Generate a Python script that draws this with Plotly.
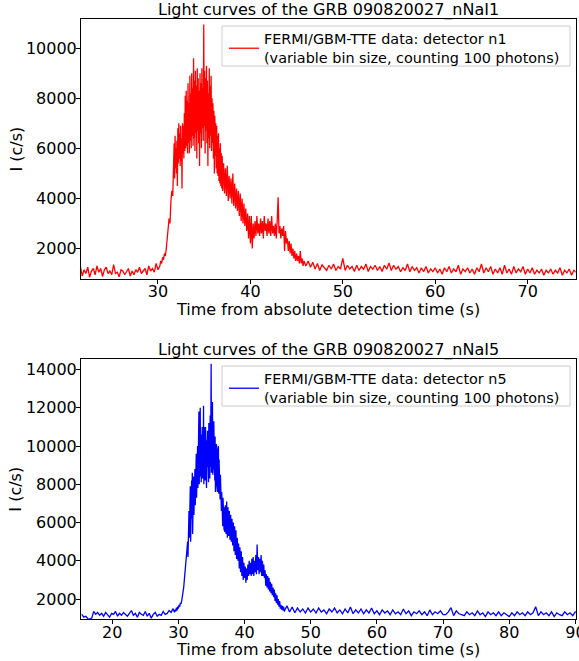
import plotly.graph_objects as go

# ---------------- data ----------------
t_n1 = [
    21.6, 21.8, 22.0, 22.2, 22.4, 22.6, 22.8, 23.0, 23.2, 23.4,
    23.6, 23.8, 24.0, 24.2, 24.4, 24.6, 24.8, 25.0, 25.2, 25.4,
    25.6, 25.8, 26.0, 26.2, 26.4, 26.6, 26.8, 27.0, 27.2, 27.4,
    27.6, 27.8, 28.0, 28.2, 28.4, 28.6, 28.8, 29.0, 29.2, 29.4,
    29.6, 29.8, 30.0,
    30.1, 30.2, 30.3, 30.4, 30.5, 30.6, 30.7, 30.8, 30.9, 31.0,
    31.1, 31.2, 31.3, 31.4, 31.5, 31.6, 31.7,
    31.75, 31.80, 31.85, 31.90, 31.95, 32.00, 32.05, 32.10, 32.15, 32.20,
    32.25, 32.30, 32.35, 32.40, 32.45, 32.50, 32.55, 32.60, 32.65, 32.70,
    32.75, 32.80, 32.85, 32.90, 32.95, 33.00, 33.05, 33.10, 33.15, 33.20,
    33.25, 33.30, 33.35, 33.40, 33.45, 33.50, 33.55, 33.60, 33.65, 33.70,
    33.75, 33.80, 33.85, 33.90, 33.95, 34.00, 34.05, 34.10, 34.15, 34.20,
    34.25, 34.30, 34.35, 34.40, 34.45, 34.50, 34.55, 34.60, 34.65, 34.70,
    34.75, 34.80, 34.85, 34.90, 34.95, 35.00, 35.05, 35.10, 35.15, 35.20,
    35.25, 35.30, 35.35, 35.40, 35.45, 35.50, 35.55, 35.60, 35.65, 35.70,
    35.75, 35.80, 35.85, 35.90, 35.95, 36.00, 36.05, 36.10, 36.15, 36.20,
    36.25, 36.30, 36.35, 36.40, 36.45, 36.50, 36.55, 36.60, 36.65, 36.70,
    36.75, 36.80, 36.85, 36.90, 36.95, 37.00,
    37.1, 37.2, 37.3, 37.4, 37.5, 37.6, 37.7, 37.8, 37.9, 38.0,
    38.1, 38.2, 38.3, 38.4, 38.5, 38.6, 38.7, 38.8, 38.9, 39.0,
    39.1, 39.2, 39.3, 39.4, 39.5, 39.6, 39.7, 39.8, 39.9, 40.0,
    40.1, 40.2, 40.3, 40.4, 40.5, 40.6, 40.7, 40.8, 40.9, 41.0,
    41.1, 41.2, 41.3, 41.4, 41.5, 41.6, 41.7, 41.8, 41.9, 42.0,
    42.1, 42.2, 42.3, 42.4, 42.5, 42.6, 42.7, 42.8, 42.9, 43.0,
    43.1, 43.2, 43.3, 43.4, 43.5, 43.6, 43.7, 43.8, 43.9, 44.0,
    44.1, 44.2, 44.3, 44.4, 44.5, 44.6, 44.7, 44.8, 44.9, 45.0,
    45.1, 45.2, 45.3, 45.4, 45.5, 45.6, 45.7, 45.8, 45.9, 46.0,
    46.25, 46.5, 46.75, 47.0, 47.25, 47.5, 47.75, 48.0, 48.25, 48.5, 48.75, 49.0,
    49.25, 49.5, 49.75, 50.0, 50.25, 50.5, 50.75, 51.0, 51.25, 51.5, 51.75, 52.0,
    52.25, 52.5, 52.75, 53.0, 53.25, 53.5, 53.75, 54.0, 54.25, 54.5, 54.75, 55.0,
    55.25, 55.5, 55.75, 56.0, 56.25, 56.5, 56.75, 57.0, 57.25, 57.5, 57.75, 58.0,
    58.25, 58.5, 58.75, 59.0, 59.25, 59.5, 59.75, 60.0, 60.25, 60.5, 60.75, 61.0,
    61.25, 61.5, 61.75, 62.0, 62.25, 62.5, 62.75, 63.0, 63.25, 63.5, 63.75, 64.0,
    64.25, 64.5, 64.75, 65.0, 65.25, 65.5, 65.75, 66.0, 66.25, 66.5, 66.75, 67.0,
    67.25, 67.5, 67.75, 68.0, 68.25, 68.5, 68.75, 69.0, 69.25, 69.5, 69.75, 70.0,
    70.25, 70.5, 70.75, 71.0, 71.25, 71.5, 71.75, 72.0, 72.25, 72.5, 72.75, 73.0,
    73.25, 73.5, 73.75, 74.0, 74.25, 74.5, 74.75, 75.0, 75.25,
]
rate_n1 = [
    1300, 900, 1150, 1000, 1250, 850, 1100, 1200, 950, 1300,
    1050, 1200, 880, 1150, 1250, 1000, 1100, 950, 1350, 1000,
    1050, 870, 1150, 1100, 950, 1050, 1200, 900, 1100, 950,
    1150, 1050, 1250, 1000, 1100, 1200, 950, 1300, 1100, 1200,
    1050, 1400, 1150,
    1250, 1300, 1500, 1400, 1650, 1550, 1800, 1700, 2000, 2300,
    2800, 3200, 3000, 3900, 4300, 4100, 5200,
    6200, 4800, 6500, 5200, 6000, 5000, 6300, 4500, 6800, 5400,
    7000, 5600, 6600, 5300, 6900, 5500, 6400, 4400, 7000, 5800,
    6900, 5600, 7400, 5900, 8100, 6000, 8300, 6100, 7900, 5800,
    8600, 6200, 7800, 5800, 8900, 6300, 8200, 6000, 9000, 6500,
    8400, 6100, 9600, 6400, 8700, 5900, 9100, 6600, 8500, 5600,
    9200, 6700, 8800, 6200, 8300, 5300, 9000, 6600, 8600, 6000,
    9200, 6800, 8400, 6300, 10950, 6900, 9100, 5800, 8800, 6700,
    9300, 6200, 8700, 5300, 8200, 6400, 9200, 6000, 8500, 6500,
    8900, 5900, 8000, 6200, 7800, 5600, 7500, 5000, 7300, 5700,
    7000, 5200, 6900, 5000, 6500, 4900, 6600, 4700, 6000, 4600,
    6200, 4500, 5800, 4400, 5700, 4300,
    5400, 4200, 5200, 4100, 5300, 3900, 4900, 4000, 4800, 3800,
    5000, 3700, 4600, 3600, 4400, 3500, 4300, 3300, 4200, 3100,
    4000, 3000, 3800, 2900, 3600, 2700, 3400, 2400, 3300, 2200,
    3300, 2000, 3000, 2400, 3100, 2500, 3300, 2600, 3000, 2500,
    3200, 2600, 3100, 2400, 3300, 2700, 3000, 2500, 3200, 2600,
    3100, 2500, 3300, 2600, 2900, 2500, 3000, 2400, 3100, 4050,
    2600, 2900, 2400, 2800, 2500, 2900, 1900, 2700, 2200, 2400,
    1900, 2300, 1800, 2200, 1700, 2000, 1600, 1900, 1500, 1800,
    1500, 1700, 1400, 1900, 1400, 1600, 1300, 1500, 1400, 1300,
    1500, 1250, 1450, 1180, 1400, 1120, 1350, 1250, 1120, 1330, 1180, 1380,
    1120, 1280, 1180, 1600, 1120, 1330, 1180, 1280, 1080, 1330, 1120, 1280,
    1170, 1380, 1080, 1280, 1170, 1330, 1120, 1280, 1080, 1330, 1170, 1420,
    1120, 1330, 1170, 1280, 1070, 1230, 1120, 1380, 1070, 1280, 1120, 1230,
    1020, 1230, 1070, 1280, 1020, 1180, 1070, 1230, 1020, 1180, 970, 1230,
    1070, 1280, 1020, 1180, 1070, 1330, 970, 1180, 1070, 1230, 1020, 1180,
    970, 1230, 1070, 1380, 1020, 1230, 1070, 1280, 970, 1180, 1020, 1230,
    970, 1330, 1020, 1180, 970, 1280, 1020, 1180, 1070, 1280, 970, 1180,
    1020, 1230, 970, 1130, 1020, 1180, 930, 1130, 1020, 1180, 970, 1130,
    1020, 1230, 930, 1130, 1020, 1180, 930, 1130, 1050,
]

t_n5 = [
    15.4, 15.7, 16.0, 16.3, 16.6, 16.9, 17.2, 17.5, 17.8, 18.1,
    18.4, 18.7, 19.0, 19.3, 19.6, 19.9, 20.2, 20.5, 20.8, 21.1,
    21.4, 21.7, 22.0, 22.3, 22.6, 22.9, 23.2, 23.5, 23.8, 24.1,
    24.4, 24.7, 25.0, 25.3, 25.6, 25.9, 26.2, 26.5, 26.8, 27.1,
    27.4, 27.7, 28.0, 28.3, 28.6, 28.9, 29.2,
    29.4, 29.5, 29.6, 29.7, 29.8, 29.9, 30.0, 30.1, 30.2, 30.3,
    30.4, 30.5, 30.6, 30.7, 30.8, 30.9, 31.0, 31.1, 31.2, 31.3,
    31.4,
    31.45, 31.50, 31.55, 31.60, 31.65, 31.70, 31.75, 31.80, 31.85, 31.90,
    31.95, 32.00, 32.05, 32.10, 32.15, 32.20, 32.25, 32.30, 32.35, 32.40,
    32.45, 32.50, 32.55, 32.60, 32.65, 32.70, 32.75, 32.80, 32.85, 32.90,
    32.95, 33.00, 33.05, 33.10, 33.15, 33.20, 33.25, 33.30, 33.35, 33.40,
    33.45, 33.50, 33.55, 33.60, 33.65, 33.70, 33.75, 33.80, 33.85, 33.90,
    33.95, 34.00, 34.05, 34.10, 34.15, 34.20, 34.25, 34.30, 34.35, 34.40,
    34.45, 34.50, 34.55, 34.60, 34.65, 34.70, 34.75, 34.80, 34.85, 34.90,
    34.95, 35.00, 35.05, 35.10, 35.15, 35.20, 35.25, 35.30, 35.35, 35.40,
    35.45, 35.50, 35.55, 35.60, 35.65, 35.70, 35.75, 35.80, 35.85, 35.90,
    35.95, 36.00, 36.05, 36.10, 36.15, 36.20, 36.25, 36.30, 36.35, 36.40,
    36.45, 36.50, 36.55, 36.60, 36.65, 36.70, 36.75, 36.80, 36.85, 36.90,
    36.95, 37.00,
    37.1, 37.2, 37.3, 37.4, 37.5, 37.6, 37.7, 37.8, 37.9, 38.0,
    38.1, 38.2, 38.3, 38.4, 38.5, 38.6, 38.7, 38.8, 38.9, 39.0,
    39.1, 39.2, 39.3, 39.4, 39.5, 39.6, 39.7, 39.8, 39.9, 40.0,
    40.1, 40.2, 40.3, 40.4, 40.5, 40.6, 40.7, 40.8, 40.9, 41.0,
    41.1, 41.2, 41.3, 41.4, 41.5, 41.6, 41.7, 41.8, 41.9, 42.0,
    42.1, 42.2, 42.3, 42.4, 42.5, 42.6, 42.7, 42.8, 42.9, 43.0,
    43.1, 43.2, 43.3, 43.4, 43.5, 43.6, 43.7, 43.8, 43.9, 44.0,
    44.1, 44.2, 44.3, 44.4, 44.5, 44.6, 44.7, 44.8, 44.9, 45.0,
    45.1, 45.2, 45.3, 45.4, 45.5, 45.6, 45.7, 45.8, 45.9, 46.0,
    46.4, 46.8, 47.2, 47.6, 48.0, 48.4, 48.8, 49.2, 49.6, 50.0,
    50.4, 50.8, 51.2, 51.6, 52.0, 52.4, 52.8, 53.2, 53.6, 54.0,
    54.4, 54.8, 55.2, 55.6, 56.0, 56.4, 56.8, 57.2, 57.6, 58.0,
    58.4, 58.8, 59.2, 59.6, 60.0, 60.4, 60.8, 61.2, 61.6, 62.0,
    62.4, 62.8, 63.2, 63.6, 64.0, 64.4, 64.8, 65.2, 65.6, 66.0,
    66.4, 66.8, 67.2, 67.6, 68.0, 68.4, 68.8, 69.2, 69.6, 70.0,
    70.4, 70.8, 71.2, 71.6, 72.0, 72.4, 72.8, 73.2, 73.6, 74.0,
    74.4, 74.8, 75.2, 75.6, 76.0, 76.4, 76.8, 77.2, 77.6, 78.0,
    78.4, 78.8, 79.2, 79.6, 80.0, 80.4, 80.8, 81.2, 81.6, 82.0,
    82.4, 82.8, 83.2, 83.6, 84.0, 84.4, 84.8, 85.2, 85.6, 86.0,
    86.4, 86.8, 87.2, 87.6, 88.0, 88.4, 88.8, 89.2, 89.6, 90.0,
    90.4,
]
rate_n5 = [
    1200, 1050, 1100, 980, 950, 1000, 1350, 1200, 1300, 1150,
    1250, 1100, 1300, 1150, 1050, 1250, 1200, 1350, 1100, 1250,
    1150, 1300, 1200, 1100, 1250, 1400, 1150, 1250, 1050, 1300,
    1200, 1150, 1350, 1100, 1250, 1000, 1200, 1300, 1100, 1200,
    1150, 1350, 1200, 1250, 1400, 1300, 1500,
    1300, 1450, 1350, 1550, 1400, 1600, 1500, 1700, 1600, 1800,
    1750, 1900, 2100, 2300, 2600, 3000, 3400, 3800, 4100, 4500,
    5000,
    4200, 5600, 4800, 6600, 5200, 7400, 5600, 7900, 5000, 7200,
    5800, 8200, 6200, 8600, 5400, 7800, 6000, 8400, 6400, 8000,
    6600, 8800, 6900, 9300, 7200, 9600, 7300, 9000, 7600, 10000,
    7800, 10400, 8200, 11800, 8000, 10800, 8300, 12000, 8400, 10600,
    8100, 10300, 8600, 11000, 8300, 10500, 8700, 12100, 8000, 11000,
    8800, 10600, 8200, 11000, 8500, 9700, 7800, 10300, 8900, 10800,
    8400, 9900, 8100, 11200, 8700, 10500, 8300, 11600, 8900, 11000,
    14300, 8600, 11800, 9200, 12300, 8500, 10900, 9000, 11300, 8400,
    10200, 8200, 10500, 7600, 9800, 8000, 10100, 7800, 9400, 7600,
    9800, 7700, 10000, 7500, 9300, 7400, 8900, 7200, 8500, 7000,
    8000, 6600, 7600, 6200, 7400, 5800, 7300, 5900, 7000, 5600,
    6800, 5500,
    6900, 5400, 7100, 5200, 6800, 5300, 6600, 5100, 6400, 5000,
    6200, 4800, 6000, 4500, 5800, 4300, 5600, 4100, 5200, 4000,
    4900, 3600, 4700, 3400, 4500, 3200, 4200, 3000, 3900, 3100,
    3700, 2850, 3600, 3000, 3800, 3200, 4000, 3300, 3900, 3200,
    4100, 3300, 4200, 3200, 4000, 3400, 4300, 3300, 4850, 3500,
    4200, 3300, 4100, 3400, 4300, 3200, 4000, 3200, 3800, 3100,
    3500, 2700, 3300, 2600, 3200, 2500, 3100, 2400, 2900, 2300,
    2800, 2200, 2600, 2100, 2500, 1900, 2300, 1800, 2200, 1700,
    2000, 1600, 1900, 1500, 1700, 1450, 1650, 1400, 1600, 1350,
    1650, 1320, 1580, 1280, 1530, 1320, 1480, 1270, 1530, 1320,
    1480, 1270, 1530, 1320, 1430, 1230, 1480, 1320, 1530, 1280,
    1430, 1230, 1480, 1270, 1580, 1230, 1430, 1270, 1480, 1230,
    1430, 1270, 1530, 1230, 1380, 1180, 1430, 1270, 1380, 1180,
    1430, 1230, 1330, 1180, 1480, 1230, 1380, 1130, 1330, 1230,
    1380, 1180, 1330, 1130, 1430, 1180, 1330, 1230, 1380, 1180,
    1180, 1330, 1550, 1130, 1380, 1230, 1180, 1130, 1330, 1180,
    1280, 1130, 1380, 1180, 1280, 1080, 1330, 1180, 1280, 1130,
    1330, 1130, 1280, 1180, 1080, 1280, 1130, 1330, 1180, 1280,
    1130, 1330, 1180, 1280, 1600, 1130, 1330, 1180, 1280, 1130,
    1330, 1080, 1280, 1180, 1130, 1330, 1180, 1280, 1130, 1330,
    1200,
]

x_ticks_n1 = [30, 40, 50, 60, 70]
y_ticks_n1 = [2000, 4000, 6000, 8000, 10000]
x_ticks_n5 = [20, 30, 40, 50, 60, 70, 80, 90]
y_ticks_n5 = [2000, 4000, 6000, 8000, 10000, 12000, 14000]

titles = ["Light curves of the GRB 090820027_nNaI1",
          "Light curves of the GRB 090820027_nNaI5"]
names = ["FERMI/GBM-TTE data: detector n1<br>(variable bin size, counting 100 photons)",
         "FERMI/GBM-TTE data: detector n5<br>(variable bin size, counting 100 photons)"]
x_label = "Time from absolute detection time (s)"
y_label = "I (c/s)"

# ---------------- figure ----------------
W, H = 579, 661
FONT = "DejaVu Sans"


def px_x(p):
    return p / W


def px_y(p):
    return 1 - p / H


fig = go.Figure()
fig.add_trace(go.Scatter(x=t_n1, y=rate_n1, mode="lines", name=names[0],
                         line=dict(color="#ff0000", width=1.3),
                         xaxis="x", yaxis="y", legend="legend"))
fig.add_trace(go.Scatter(x=t_n5, y=rate_n5, mode="lines", name=names[1],
                         line=dict(color="#0000ff", width=1.3),
                         xaxis="x2", yaxis="y2", legend="legend2"))


def axis_style(vals, standoff, **kw):
    d = dict(showline=True, linecolor="black", linewidth=1, mirror=True,
             ticks="outside", ticklen=4, tickwidth=1, tickcolor="black",
             showgrid=False, zeroline=False, automargin=False,
             tickfont=dict(family=FONT, size=16, color="black"),
             tickmode="array", tickvals=vals, ticktext=[str(v) for v in vals],
             ticklabelstandoff=standoff, ticklabeloverflow="allow")
    d.update(kw)
    return d


xdom = [px_x(81), px_x(575.7)]
dom_top = [px_y(279), px_y(19)]
dom_bot = [px_y(619.3), px_y(359)]
xc = (xdom[0] + xdom[1]) / 2

legend_common = dict(borderwidth=0, bgcolor="rgba(0,0,0,0)",
                     font=dict(family=FONT, size=14.4, color="black"),
                     valign="middle", itemwidth=30, xanchor="left", yanchor="top")

annotations = []
for i, (dom, axis_bottom_px) in enumerate([(dom_top, 279), (dom_bot, 619.3)]):
    annotations.append(dict(text=titles[i], xref="paper", yref="paper", x=xc,
                            y=dom[1], xanchor="center", yanchor="bottom",
                            showarrow=False, yshift=-3,
                            font=dict(family=FONT, size=16, color="black")))
    annotations.append(dict(text=x_label, xref="paper", yref="paper", x=xc,
                            y=px_y(axis_bottom_px + 30), xanchor="center",
                            yanchor="middle", showarrow=False,
                            font=dict(family=FONT, size=16, color="black")))
    annotations.append(dict(text=y_label, xref="paper", yref="paper", x=px_x(15.5),
                            y=(dom[0] + dom[1]) / 2, xanchor="center",
                            yanchor="middle", showarrow=False, textangle=-90,
                            font=dict(family=FONT, size=16, color="black")))

shapes = []
for top_px in (26, 366):
    shapes.append(dict(type="rect", xref="paper", yref="paper",
                       x0=px_x(222), x1=px_x(570),
                       y0=px_y(top_px + 40), y1=px_y(top_px),
                       line=dict(color="#cccccc", width=1),
                       fillcolor="rgba(255,255,255,0.8)", layer="below"))

fig.update_layout(
    width=W, height=H,
    margin=dict(l=0, r=0, t=0, b=0),
    paper_bgcolor="white", plot_bgcolor="white",
    font=dict(family=FONT, color="black"),
    xaxis=axis_style(x_ticks_n1, -6, domain=xdom, anchor="y", range=[21.67, 75.2]),
    yaxis=axis_style(y_ticks_n1, -4, domain=dom_top, anchor="x", range=[780, 11170]),
    xaxis2=axis_style(x_ticks_n5, -6, domain=xdom, anchor="y2", range=[15.28, 90.05]),
    yaxis2=axis_style(y_ticks_n5, -4, domain=dom_bot, anchor="x2", range=[940, 14550]),
    legend=dict(x=px_x(224), y=px_y(23), **legend_common),
    legend2=dict(x=px_x(224), y=px_y(363), **legend_common),
    showlegend=True,
    annotations=annotations,
    shapes=shapes,
)

fig.write_html("out.html")
